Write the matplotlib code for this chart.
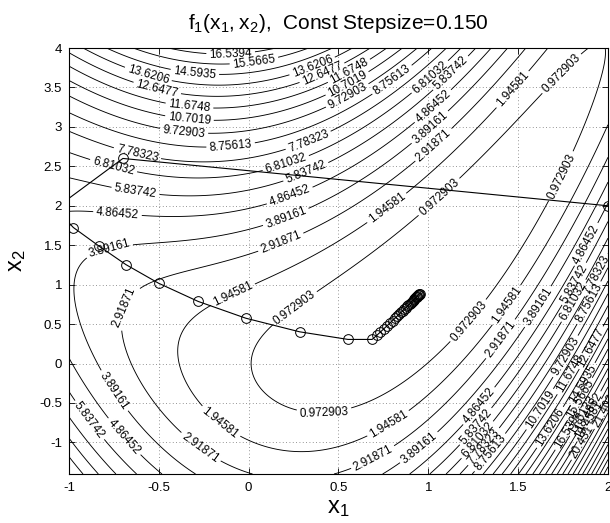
import numpy as np
import matplotlib
matplotlib.use("Agg")
import matplotlib.pyplot as plt

plt.rcParams['font.family'] = ['Liberation Sans', 'DejaVu Sans']
plt.rcParams['mathtext.fontset'] = 'custom'
plt.rcParams['mathtext.rm'] = 'Liberation Sans'

# surface f1(x1,x2) = (x2 - x1^2)^2 + (1 - x1)^2 on the plotted window
x1_grid = np.linspace(-1, 2, 301)
x2_grid = np.linspace(-1.4, 4, 541)
n_levels = 30

# iterates of the descent run, step 0.15
path_x1 = [2.0000, -0.7000, -1.0762, -0.9756, -0.8351, -0.6830, -0.5009, -0.2811,
           -0.0163, 0.2830, 0.5529, 0.6871, 0.7124, 0.7338, 0.7532, 0.7708,
           0.7867, 0.8013, 0.8145, 0.8267, 0.8379, 0.8482, 0.8578, 0.8666,
           0.8748, 0.8823, 0.8894, 0.8960, 0.9021, 0.9078, 0.9132, 0.9182,
           0.9229, 0.9273, 0.9314, 0.9352, 0.9389, 0.9423, 0.9455, 0.9485, 0.9513]
path_x2 = [2.0000, 2.6000, 1.9670, 1.7244, 1.4926, 1.2541, 1.0178, 0.7877,
           0.5751, 0.4027, 0.3059, 0.3058, 0.3557, 0.4012, 0.4424, 0.4799,
           0.5142, 0.5456, 0.5745, 0.6012, 0.6259, 0.6487, 0.6700, 0.6897,
           0.7081, 0.7252, 0.7412, 0.7562, 0.7701, 0.7832, 0.7955, 0.8070,
           0.8179, 0.8280, 0.8376, 0.8465, 0.8550, 0.8629, 0.8704, 0.8775, 0.8841]

xticks = [-1, -0.5, 0, 0.5, 1, 1.5, 2]
yticks = [-1, -0.5, 0, 0.5, 1, 1.5, 2, 2.5, 3, 3.5, 4]

# where the contour labels sit: (level number, x1, x2)
label_spots = [
    (17, -0.104, 3.92), (16, 0.026, 3.84), (14, -0.559, 3.645), (15, -0.299, 3.68),
    (14, 0.36, 3.74), (13, -0.512, 3.49), (13, 0.415, 3.636), (12, -0.327, 3.235),
    (12, 0.55, 3.74), (11, -0.327, 3.086), (11, 0.554, 3.53), (10, -0.364, 2.925),
    (10, 0.553, 3.40), (9, -0.104, 2.77), (9, 0.796, 3.615), (8, -0.614, 2.68),
    (8, 0.341, 2.77), (7, -0.753, 2.49), (7, 0.211, 2.49), (7, 1.018, 3.615),
    (6, -0.633, 2.18), (6, 0.322, 2.43), (6, 1.148, 3.636), (5, -0.735, 1.88),
    (5, 0.23, 2.11), (5, 1.018, 3.277), (4, 1.018, 2.98), (3, 1.046, 2.727),
    (2, 1.472, 3.467), (1, 1.75, 3.657), (2, 0.777, 1.944), (1, 1.055, 2.135),
    (1, 1.75, 2.367), (4, -0.772, 1.437), (4, 0.211, 1.817), (3, 0.192, 1.478),
    (3, -0.67, 0.697), (2, -0.086, 0.865), (1, 0.286, 0.612), (1, 0.415, -0.616),
    (1, 1.231, 0.526), (2, 1.435, 0.739), (3, 1.41, 0.30), (4, 1.61, 0.72),
    (5, 1.90, 1.478), (6, 1.806, 1.014), (7, 1.834, 0.76), (8, 1.955, 1.10),
    (9, 1.918, 0.739), (10, 1.797, 0.04), (13, 1.964, 0.126), (12, 1.844, -0.213),
    (11, 1.60, -0.55), (5, 1.287, -0.552), (6, 1.25, -0.763), (7, 1.278, -0.975),
    (8, 1.333, -1.1), (9, 1.399, -1.23), (14, 1.677, -0.806), (15, 1.89, -0.30),
    (16, 1.872, -0.49), (17, 1.788, -0.85), (18, 1.86, -0.65), (19, 1.90, -0.63),
    (20, 1.92, -0.75), (21, 1.844, -0.975), (22, 1.944, -0.5),
    (2, 0.758, -0.70), (3, 0.70, -1.22), (4, 0.97, -1.13), (2, -0.16, -0.763),
    (3, -0.271, -1.08), (4, -0.762, -0.363), (5, -0.688, -0.911), (6, -0.874, -0.70),
]

X1, X2 = np.meshgrid(x1_grid, x2_grid)
Z = (X2 - X1**2)**2 + (1 - X1)**2
levels = np.linspace(Z.min(), Z.max(), n_levels + 2)[1:-1]

fig = plt.figure(figsize=(6.1, 5.23), dpi=100)
ax = fig.add_axes([0.1131, 0.0937, 0.8836, 0.8145])

cs = ax.contour(X1, X2, Z, levels=levels, colors='k', linewidths=0.65)

# snap every label spot onto its own contour line
paths = cs.get_paths()
spots = []
for n, lx, ly in label_spots:
    v = paths[n - 1].vertices
    d = ((v[:, 0] - lx) * 180) ** 2 + ((v[:, 1] - ly) * 79) ** 2
    spots.append(tuple(v[np.argmin(d)]))
cs.clabel(manual=spots, fmt='%g', fontsize=8.5, inline=True, inline_spacing=3)

ax.plot(path_x1, path_x2, '-o', color='k', lw=0.8, ms=7, mfc='none', mew=0.7, zorder=5)

ax.set_xlim(-1, 2)
ax.set_ylim(-1.4, 4)
ax.set_xticks(xticks)
ax.set_xticklabels(['%g' % t for t in xticks])
ax.set_yticks(yticks)
ax.set_yticklabels(['%g' % t for t in yticks])
ax.tick_params(direction='in', top=True, right=True, length=4, width=0.6, labelsize=9.5)
ax.tick_params(axis='x', pad=6)
ax.tick_params(axis='y', pad=5)
ax.grid(True, color='0.45', linestyle=(0, (1, 3)), linewidth=0.6)
for s in ax.spines.values():
    s.set_linewidth(0.8)

ax.set_title(r'$\mathregular{f_1(x_1,x_2)}$,  Const Stepsize=0.150', fontsize=15, pad=14)
ax.set_xlabel(r'$\mathregular{x_1}$', fontsize=17, labelpad=2)
ax.set_ylabel(r'$\mathregular{x_2}$', fontsize=17, labelpad=8)

fig.savefig('out.png', dpi=100)
